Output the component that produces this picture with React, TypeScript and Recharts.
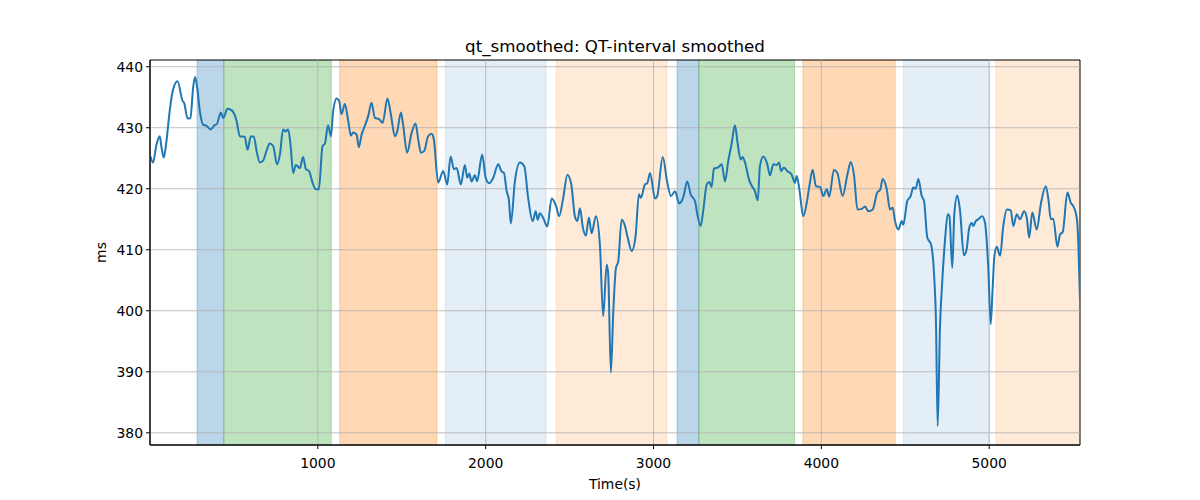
import {
  LineChart,
  Line,
  XAxis,
  YAxis,
  ReferenceArea,
  ReferenceLine,
} from "recharts";

// seconds since start
const times = [
  3, 18, 39, 58, 69, 82, 98, 117, 138, 164, 194, 203, 224, 241, 257, 269, 281, 297, 316, 337,
  362, 380, 400, 422, 436, 462, 489, 516, 535, 565, 581, 601, 619, 635, 654, 674, 694, 714, 734, 757,
  774, 793, 809, 823, 837, 853, 869, 893, 912, 929, 948, 966, 988, 1006, 1028, 1042, 1061, 1078, 1091, 1112,
  1127, 1141, 1161, 1181, 1197, 1210, 1231, 1244, 1261, 1280, 1300, 1320, 1340, 1365, 1386, 1415, 1435, 1459, 1473, 1495,
  1508, 1532, 1559, 1582, 1598, 1614, 1634, 1657, 1678, 1691, 1717, 1747, 1771, 1791, 1811, 1827, 1852, 1876, 1890, 1902,
  1916, 1936, 1949, 1979, 2000, 2021, 2045, 2075, 2095, 2109, 2125, 2138, 2150, 2174, 2204, 2230, 2253, 2280, 2298, 2310,
  2323, 2343, 2367, 2393, 2419, 2438, 2462, 2487, 2510, 2532, 2546, 2562, 2578, 2597, 2615, 2631, 2657, 2681, 2700, 2721,
  2730, 2746, 2760, 2776, 2790, 2810, 2830, 2846, 2870, 2893, 2913, 2925, 2949, 2963, 2979, 3009, 3022, 3055, 3082, 3104,
  3128, 3153, 3177, 3201, 3221, 3247, 3261, 3281, 3297, 3317, 3332, 3346, 3360, 3386, 3406, 3426, 3445, 3466, 3485, 3501,
  3519, 3531, 3545, 3569, 3585, 3604, 3621, 3634, 3654, 3678, 3694, 3714, 3734, 3748, 3760, 3777, 3797, 3823, 3843, 3853,
  3869, 3892, 3913, 3928, 3948, 3968, 3992, 4012, 4032, 4047, 4075, 4095, 4127, 4155, 4175, 4195, 4215, 4241, 4260, 4280,
  4306, 4333, 4350, 4366, 4389, 4409, 4425, 4439, 4459, 4479, 4488, 4512, 4532, 4548, 4562, 4578, 4598, 4612, 4631, 4653,
  4671, 4683, 4693, 4707, 4721, 4737, 4753, 4763, 4780, 4792, 4810, 4826, 4849, 4865, 4881, 4896, 4905, 4920, 4935, 4959,
  4975, 4995, 5009, 5021, 5031, 5045, 5065, 5084, 5105, 5128, 5144, 5164, 5184, 5208, 5224, 5238, 5257, 5283, 5309, 5337,
  5353, 5367, 5382, 5406, 5422, 5438, 5466, 5486, 5502, 5522, 5531, 5541,
];

// smoothed QT interval, ms
const qt = [
  425.3, 424.3, 427.3, 428.6, 426.7, 425.1, 427.8, 432.7, 436.3, 437.6, 434.4, 434.1, 431.5, 431.6, 436.6, 438.3, 436.6, 432.7, 430.5, 430.3,
  429.7, 430.3, 430.7, 432.5, 431.6, 433.1, 432.8, 431.1, 428.6, 428.5, 426.4, 428.6, 428.5, 426.2, 424.3, 424.6, 426.2, 427.4, 427.0, 424.0,
  425.6, 429.7, 429.4, 429.7, 427.3, 422.6, 423.9, 423.4, 425.2, 423.2, 422.9, 421.2, 419.9, 419.9, 427.0, 427.4, 430.4, 428.6, 432.7, 434.8,
  434.4, 432.2, 433.9, 431.1, 428.7, 429.2, 428.9, 426.8, 428.9, 430.3, 431.9, 434.1, 431.6, 431.4, 430.8, 434.8, 432.2, 428.6, 429.4, 432.5,
  430.5, 425.9, 429.2, 430.7, 428.1, 425.9, 426.2, 428.6, 429.0, 428.1, 421.0, 422.9, 420.7, 425.3, 423.2, 423.4, 420.7, 423.9, 421.8, 422.5,
  421.2, 422.2, 421.2, 425.6, 421.8, 420.9, 421.8, 424.0, 422.8, 422.6, 419.6, 418.2, 414.3, 421.2, 424.3, 423.7, 418.5, 414.7, 416.3, 414.9,
  416.0, 415.2, 413.8, 418.4, 417.2, 415.5, 418.5, 422.3, 420.7, 415.4, 414.7, 416.8, 413.8, 412.3, 415.3, 412.7, 415.5, 410.6, 399.1, 407.6,
  406.0, 389.9, 399.7, 407.0, 408.1, 414.9, 413.9, 412.0, 409.8, 412.2, 419.1, 418.5, 420.7, 420.9, 422.6, 418.4, 418.8, 425.2, 421.0, 418.8,
  419.6, 417.6, 418.6, 421.2, 419.1, 418.0, 415.8, 413.9, 416.6, 420.7, 421.1, 420.3, 423.3, 423.5, 424.0, 421.2, 424.5, 427.5, 430.4, 427.5,
  424.8, 425.2, 424.3, 421.5, 420.5, 419.6, 418.1, 423.7, 425.3, 424.0, 422.2, 424.0, 423.9, 424.3, 422.9, 423.5, 422.9, 422.3, 421.0, 422.1,
  419.9, 415.5, 417.7, 420.3, 423.1, 420.4, 420.3, 418.8, 419.9, 418.7, 423.1, 422.6, 418.8, 422.3, 424.4, 422.1, 416.6, 416.7, 417.1, 416.3,
  416.6, 419.4, 419.8, 421.6, 420.0, 416.6, 416.9, 414.7, 413.3, 414.7, 414.1, 418.0, 418.8, 420.2, 420.0, 421.6, 418.8, 418.0, 412.0, 410.9,
  406.2, 398.0, 381.1, 397.5, 405.1, 411.7, 415.8, 415.5, 407.0, 415.8, 418.9, 416.5, 409.1, 410.0, 413.6, 414.4, 413.9, 414.7, 415.0, 415.5,
  414.4, 406.8, 397.8, 404.0, 409.0, 410.5, 409.0, 413.9, 416.6, 416.5, 413.9, 415.8, 415.0, 416.3, 415.2, 412.0, 416.1, 413.3, 417.7, 420.4,
  418.2, 415.0, 415.1, 410.5, 412.5, 412.9, 419.4, 417.7, 417.1, 415.2, 411.1, 401.8,
];

// shaded segments: start, end, colour, opacity
const spanStart = [280, 440, 1130, 1760, 2420, 3140, 3270, 3890, 4490, 5040];
const spanEnd = [440, 1080, 1710, 2360, 3080, 3270, 3840, 4440, 5000, 5540];
const spanColor = [
  "#1f77b4", "#2ca02c", "#ff7f0e", "#1f77b4", "#ff7f0e",
  "#1f77b4", "#2ca02c", "#ff7f0e", "#1f77b4", "#ff7f0e",
];
const spanAlpha = [0.3, 0.3, 0.3, 0.12, 0.16, 0.3, 0.3, 0.3, 0.12, 0.16];

const xTicks = [1000, 2000, 3000, 4000, 5000];
const yTicks = [380, 390, 400, 410, 420, 430, 440];
const xMax = 5541;
const yMin = 378;
const yMax = 441.1;

const data = times.map((t, i) => ({ t, qt: qt[i] }));
const font = "DejaVu Sans, sans-serif";
const gridColor = "#b0b0b0";

export default function App() {
  return (
    <div
      style={{
        position: "absolute",
        left: 0,
        top: 0,
        width: 1200,
        height: 500,
        background: "#fff",
        fontFamily: font,
      }}
    >
      <div
        style={{
          position: "absolute",
          left: 150,
          width: 930,
          top: 36,
          lineHeight: "20px",
          textAlign: "center",
          fontSize: 16.7,
          color: "#000",
        }}
      >
        qt_smoothed: QT-interval smoothed
      </div>
      <LineChart
        width={1200}
        height={500}
        data={data}
        margin={{ top: 60, right: 120, bottom: 0, left: 0 }}
        style={{ fontFamily: font }}
      >
        {spanStart.map((s, i) => (
          <ReferenceArea
            key={`span${i}`}
            x1={s}
            x2={spanEnd[i]}
            fill={spanColor[i]}
            fillOpacity={spanAlpha[i]}
            stroke={spanColor[i]}
            strokeOpacity={spanAlpha[i]}
            ifOverflow="hidden"
          />
        ))}
        {/* grid sits above the spans, as in matplotlib */}
        {xTicks.map((t) => (
          <ReferenceLine key={`gx${t}`} x={t} stroke={gridColor} strokeWidth={0.8} />
        ))}
        {yTicks.map((t) => (
          <ReferenceLine key={`gy${t}`} y={t} stroke={gridColor} strokeWidth={0.8} />
        ))}
        <XAxis
          dataKey="t"
          type="number"
          domain={[0, xMax]}
          ticks={xTicks}
          allowDataOverflow
          height={55}
          tickSize={4}
          tickMargin={9}
          stroke="#000"
          tick={{ fontSize: 13.9, fill: "#000" }}
          label={{ value: "Time(s)", position: "insideBottom", offset: 11, fontSize: 13.9, fill: "#000" }}
        />
        <YAxis
          type="number"
          domain={[yMin, yMax]}
          ticks={yTicks}
          allowDataOverflow
          width={150}
          tickSize={4}
          tickMargin={3}
          stroke="#000"
          tick={{ fontSize: 13.9, fill: "#000" }}
          label={{
            content: ({ viewBox }: any) => {
              const cx = viewBox.x + 101;
              const cy = viewBox.y + viewBox.height / 2;
              return (
                <text
                  x={cx}
                  y={cy}
                  transform={`rotate(-90 ${cx} ${cy})`}
                  textAnchor="middle"
                  dominantBaseline="central"
                  fontSize={13.9}
                  fill="#000"
                >
                  ms
                </text>
              );
            },
          }}
        />
        <Line
          dataKey="qt"
          type="monotone"
          stroke="#1f77b4"
          strokeWidth={2}
          dot={false}
          isAnimationActive={false}
        />
        <ReferenceArea x1={0} x2={xMax} y1={yMin} y2={yMax} fill="none" stroke="#000" strokeWidth={1} />
      </LineChart>
    </div>
  );
}
